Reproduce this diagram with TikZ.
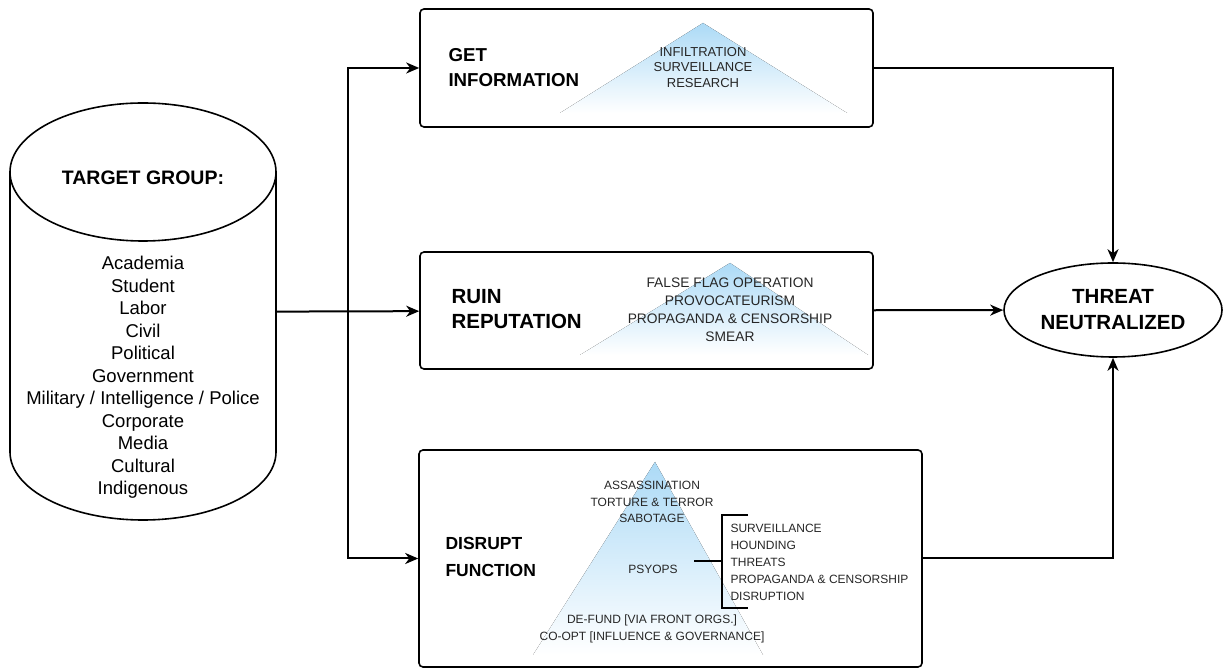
\documentclass[tikz,border=0pt]{standalone}
\usepackage{fontspec}
\setmainfont{Liberation Sans}
\usetikzlibrary{
  shapes.geometric,
  positioning,
  calc,
  arrows.meta
}
\definecolor{pyrblue}{RGB}{172,218,246}

\begin{document}
\begin{tikzpicture}[x=1pt, y=1pt,
    stage/.style = {draw, line width=1.6pt, rounded corners=4pt, inner sep=0pt},
    title/.style = {align=left, anchor=west},
    flow/.style = {line width=2pt, -{Stealth[length=13pt, width=11pt, inset=4pt]}},
    pyr/.style = {top color=pyrblue, bottom color=white},
    tactic/.style = {align=center, text=black!85}]
    \useasboundingbox (0,0) rectangle (1223,669);

    % target group cylinder
    \draw[line width=1.6pt] (10,497) -- (10,217)
        arc[start angle=180, end angle=360, x radius=133, y radius=68] -- (276,497);
    \draw[line width=1.6pt] (143,497) ellipse[x radius=133, y radius=69];
    \node[minimum width=266pt, minimum height=280pt, inner sep=0pt] (tg) at (143,357) {};
    \node[font=\bfseries\fontsize{19.5}{22}\selectfont] (tgt) at (143,491) {TARGET GROUP:};
    \node[align=center, font=\fontsize{18.5}{22.5}\selectfont] (tgl) at (143,291.5)
        {Academia\\Student\\Labor\\Civil\\Political\\Government\\
         Military / Intelligence / Police\\Corporate\\Media\\Cultural\\Indigenous};

    % stages
    \node[stage, minimum width=453pt, minimum height=118pt] (b1) at (646.5,601) {};
    \node[stage, minimum width=453pt, minimum height=117pt] (b2) at (646.5,358.5) {};
    \node[stage, minimum width=503pt, minimum height=217pt] (b3) at (670.5,110.5) {};

    \fill[pyr] (703,646) -- (560,556) -- (847,556) -- cycle;
    \fill[pyr] (730,406) -- (580,314) -- (868,314) -- cycle;
    \fill[pyr] (655,207) -- (533,14) -- (763,14) -- cycle;

    \node[title, font=\bfseries\fontsize{18.7}{25}\selectfont] (b1t) at (445,601) {GET\\INFORMATION};
    \node[title, font=\bfseries\fontsize{20.5}{25}\selectfont] (b2t) at (448,359.5) {RUIN\\REPUTATION};
    \node[title, font=\bfseries\fontsize{17.5}{27}\selectfont] (b3t) at (442,112.5) {DISRUPT\\FUNCTION};

    \node[tactic, font=\fontsize{13}{15.5}\selectfont] (p1) at (703,601.5)
        {INFILTRATION\\SURVEILLANCE\\RESEARCH};
    \node[tactic, font=\fontsize{13.8}{18}\selectfont] (p2) at (730,359)
        {FALSE FLAG OPERATION\\PROVOCATEURISM\\PROPAGANDA \& CENSORSHIP\\SMEAR};
    \node[tactic, font=\fontsize{12}{16.5}\selectfont] (p3a) at (652,167)
        {ASSASSINATION\\TORTURE \& TERROR\\SABOTAGE};
    \node[tactic, font=\fontsize{12}{16.5}\selectfont] (ps) at (653,100) {PSYOPS};
    \node[tactic, font=\fontsize{12}{17}\selectfont] (p3b) at (652,40.5)
        {DE-FUND [VIA FRONT ORGS.]\\CO-OPT [INFLUENCE \& GOVERNANCE]};
    \node[tactic, align=left, anchor=west, font=\fontsize{12}{17}\selectfont] (psl) at (727,107)
        {SURVEILLANCE\\HOUNDING\\THREATS\\PROPAGANDA \& CENSORSHIP\\DISRUPTION};

    % psyops bracket
    \coordinate (brk) at (722,108);
    \draw[line width=1.6pt] (748,154) -- (722,154) -- (722,61) -- (748,61);
    \draw[line width=1.6pt, shorten <=13pt] (ps.east |- brk) -- (brk);

    % outcome
    \node[ellipse, draw, line width=1.6pt, minimum width=218pt, minimum height=94pt, inner sep=0pt,
          align=center, font=\bfseries\fontsize{20.5}{26}\selectfont] (th) at (1113,359)
        {THREAT\\NEUTRALIZED};

    % connectors
    \coordinate (fork) at (348,357);
    \draw[flow] (tg) -- (b2);
    \draw[flow] (fork) |- (b1);
    \draw[flow] (fork) |- (b3);
    \draw[flow] (b1) -| (th);
    \draw[flow] (b2) -- (th);
    \draw[flow] (b3) -| (th);
\end{tikzpicture}
\end{document}
